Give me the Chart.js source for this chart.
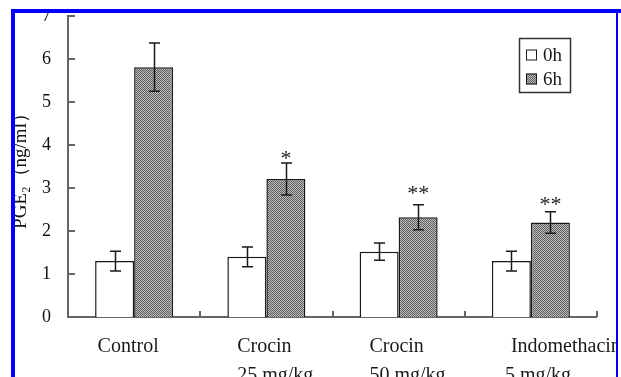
<!DOCTYPE html>
<html>
<head>
<meta charset="utf-8">
<script src="https://cdn.jsdelivr.net/npm/chart.js@4/dist/chart.umd.min.js"></script>
<style>
  html, body { margin: 0; padding: 0; background: #fff; overflow: hidden; }
  #wrap { width: 621px; height: 377px; position: relative; }
</style>
</head>
<body>
<div id="wrap"><canvas id="c" width="621" height="377"></canvas></div>
<script>
// Groups and doses (two-line category labels)
const groups = ['Control', 'Crocin', 'Crocin', 'Indomethacin'];
const doses = ['', '25 mg/kg', '50 mg/kg', '5 mg/kg'];

// Series names
const seriesNames = ['0h', '6h'];

// PGE2 (ng/ml), means and error half-widths
const pge0h = [1.30, 1.40, 1.52, 1.30];
const pge6h = [5.81, 3.21, 2.32, 2.20];
const err0h = [0.23, 0.23, 0.20, 0.23];
const err6h = [0.56, 0.37, 0.29, 0.25];

// Significance marks above the 6h bars
const sig6h = ['', '*', '**', '**'];

// Y axis range
const yMin = 0;
const yMax = 7;
const yStep = 1;

// Placement tweaks (px) for labels and significance marks
const labelShift = [-6, -2, -2, 35];
const doseShift = [0, 0, 0, -6];
const markLift = [0, 10, 17, 13];
const SERIF = '"Liberation Serif", "Times New Roman", serif';

function ditherPattern() {
  const p = document.createElement('canvas');
  p.width = 2; p.height = 2;
  const g = p.getContext('2d');
  g.fillStyle = '#bdbdbd';
  g.fillRect(0, 0, 2, 2);
  g.fillStyle = '#5e5e5e';
  g.fillRect(0, 0, 1, 1);
  g.fillRect(1, 1, 1, 1);
  return g.createPattern(p, 'repeat');
}

const ctx = document.getElementById('c').getContext('2d');
const hatch = ditherPattern();
const errs = [err0h, err6h];
const AXIS = '#666';
const INK = '#1a1a1a';

const figurePlugin = {
  id: 'figure',
  beforeDatasetsDraw(chart) {
    const c = chart.ctx;
    const x = chart.scales.x, y = chart.scales.y;
    const a = chart.chartArea;
    const y0 = y.getPixelForValue(yMin);
    c.save();
    c.strokeStyle = AXIS;
    c.lineWidth = 2;
    // y axis with inward ticks
    c.beginPath();
    c.moveTo(a.left, y.getPixelForValue(yMax) - 1);
    c.lineTo(a.left, y0 + 1);
    for (let v = yMin; v <= yMax; v += yStep) {
      const py = Math.round(y.getPixelForValue(v));
      c.moveTo(a.left, py);
      c.lineTo(a.left + 7, py);
    }
    c.stroke();
    // x axis with upward ticks at group boundaries
    c.beginPath();
    c.moveTo(a.left, y0);
    c.lineTo(a.right, y0);
    for (let i = 0; i < groups.length; i++) {
      const bx = i < groups.length - 1
        ? (x.getPixelForValue(i) + x.getPixelForValue(i + 1)) / 2
        : a.right;
      c.moveTo(Math.round(bx), y0);
      c.lineTo(Math.round(bx), y0 - 6);
    }
    c.stroke();
    c.restore();
  },
  afterDatasetsDraw(chart) {
    const c = chart.ctx;
    const x = chart.scales.x, y = chart.scales.y;
    const a = chart.chartArea;
    c.save();
    // error bars
    c.strokeStyle = INK;
    c.lineWidth = 1.5;
    chart.data.datasets.forEach((ds, di) => {
      const meta = chart.getDatasetMeta(di);
      meta.data.forEach((bar, i) => {
        const v = ds.data[i], e = errs[di][i];
        const top = y.getPixelForValue(v + e);
        const bot = y.getPixelForValue(v - e);
        const bx = Math.round(bar.x) + 0.5;
        c.beginPath();
        c.moveTo(bx, top); c.lineTo(bx, bot);
        c.moveTo(bx - 5.5, top); c.lineTo(bx + 5.5, top);
        c.moveTo(bx - 5.5, bot); c.lineTo(bx + 5.5, bot);
        c.stroke();
      });
    });
    // significance marks
    c.fillStyle = INK;
    c.font = '22px ' + SERIF;
    c.textAlign = 'center';
    c.textBaseline = 'alphabetic';
    const meta6 = chart.getDatasetMeta(1);
    meta6.data.forEach((bar, i) => {
      if (!sig6h[i]) return;
      const top = y.getPixelForValue(pge6h[i] + err6h[i]);
      c.fillText(sig6h[i], bar.x, top - markLift[i] + 12);
    });
    // category labels
    c.font = '20px ' + SERIF;
    c.textAlign = 'left';
    const y0 = y.getPixelForValue(yMin);
    groups.forEach((g, i) => {
      const cx = x.getPixelForValue(i);
      const w = c.measureText(g).width;
      const sx = cx - w / 2 + labelShift[i];
      c.fillText(g, sx, y0 + 35);
      if (doses[i]) c.fillText(doses[i], sx + doseShift[i], y0 + 64);
    });
    // legend box
    const lx = a.right - 78, ly = a.top + 22, lw = 51, lh = 54;
    c.strokeStyle = '#333';
    c.lineWidth = 1.5;
    c.strokeRect(lx + 0.5, ly + 0.5, lw, lh);
    c.font = '19px ' + SERIF;
    c.textBaseline = 'middle';
    chart.data.datasets.forEach((ds, di) => {
      const ry = ly + 17 + di * 24;
      c.fillStyle = ds.backgroundColor;
      c.fillRect(lx + 7, ry - 5.5, 11, 11);
      c.strokeStyle = INK;
      c.lineWidth = 1;
      c.strokeRect(lx + 7.5, ry - 5, 10, 10);
      c.fillStyle = INK;
      c.fillText(ds.label, lx + 24, ry + 1);
    });
    c.restore();
  },
  afterDraw(chart) {
    const c = chart.ctx;
    const W = chart.width, H = chart.height;
    c.save();
    c.fillStyle = '#fff';
    c.fillRect(0, 0, W, 9);
    c.fillRect(0, 0, 11, H);
    c.fillRect(618, 0, W - 618, H);
    c.fillStyle = '#0000ff';
    c.fillRect(11, 9, 4, H - 9);
    c.fillRect(11, 9, W - 11, 4);
    c.fillRect(616, 9, 2, H - 9);
    c.restore();
  }
};

new Chart(ctx, {
  type: 'bar',
  data: {
    labels: groups,
    datasets: [
      {
        label: seriesNames[0],
        data: pge0h,
        backgroundColor: '#ffffff',
        borderColor: INK,
        borderWidth: 1.5
      },
      {
        label: seriesNames[1],
        data: pge6h,
        backgroundColor: hatch,
        borderColor: INK,
        borderWidth: 1.5
      }
    ]
  },
  options: {
    responsive: false,
    animation: false,
    devicePixelRatio: 1,
    categoryPercentage: 0.59,
    barPercentage: 1.0,
    layout: { padding: { left: 0, right: 24, top: 16, bottom: 0 } },
    plugins: {
      legend: { display: false },
      tooltip: { enabled: false }
    },
    scales: {
      x: {
        grid: { display: false, drawTicks: false },
        border: { display: false },
        ticks: { display: false },
        afterFit(s) { s.height = 60; }
      },
      y: {
        min: yMin,
        max: yMax,
        grid: { display: false, drawTicks: true, tickLength: 17 },
        border: { display: false },
        ticks: {
          stepSize: yStep,
          padding: 0,
          color: '#111',
          font: { family: SERIF, size: 18 }
        },
        title: {
          display: true,
          text: 'PGE₂（ng/ml）',
          color: '#111',
          font: { family: SERIF, size: 19 },
          padding: { top: 10, bottom: 0 }
        },
        afterFit(s) { s.width = 68; }
      }
    }
  },
  plugins: [figurePlugin]
});
</script>
</body>
</html>
